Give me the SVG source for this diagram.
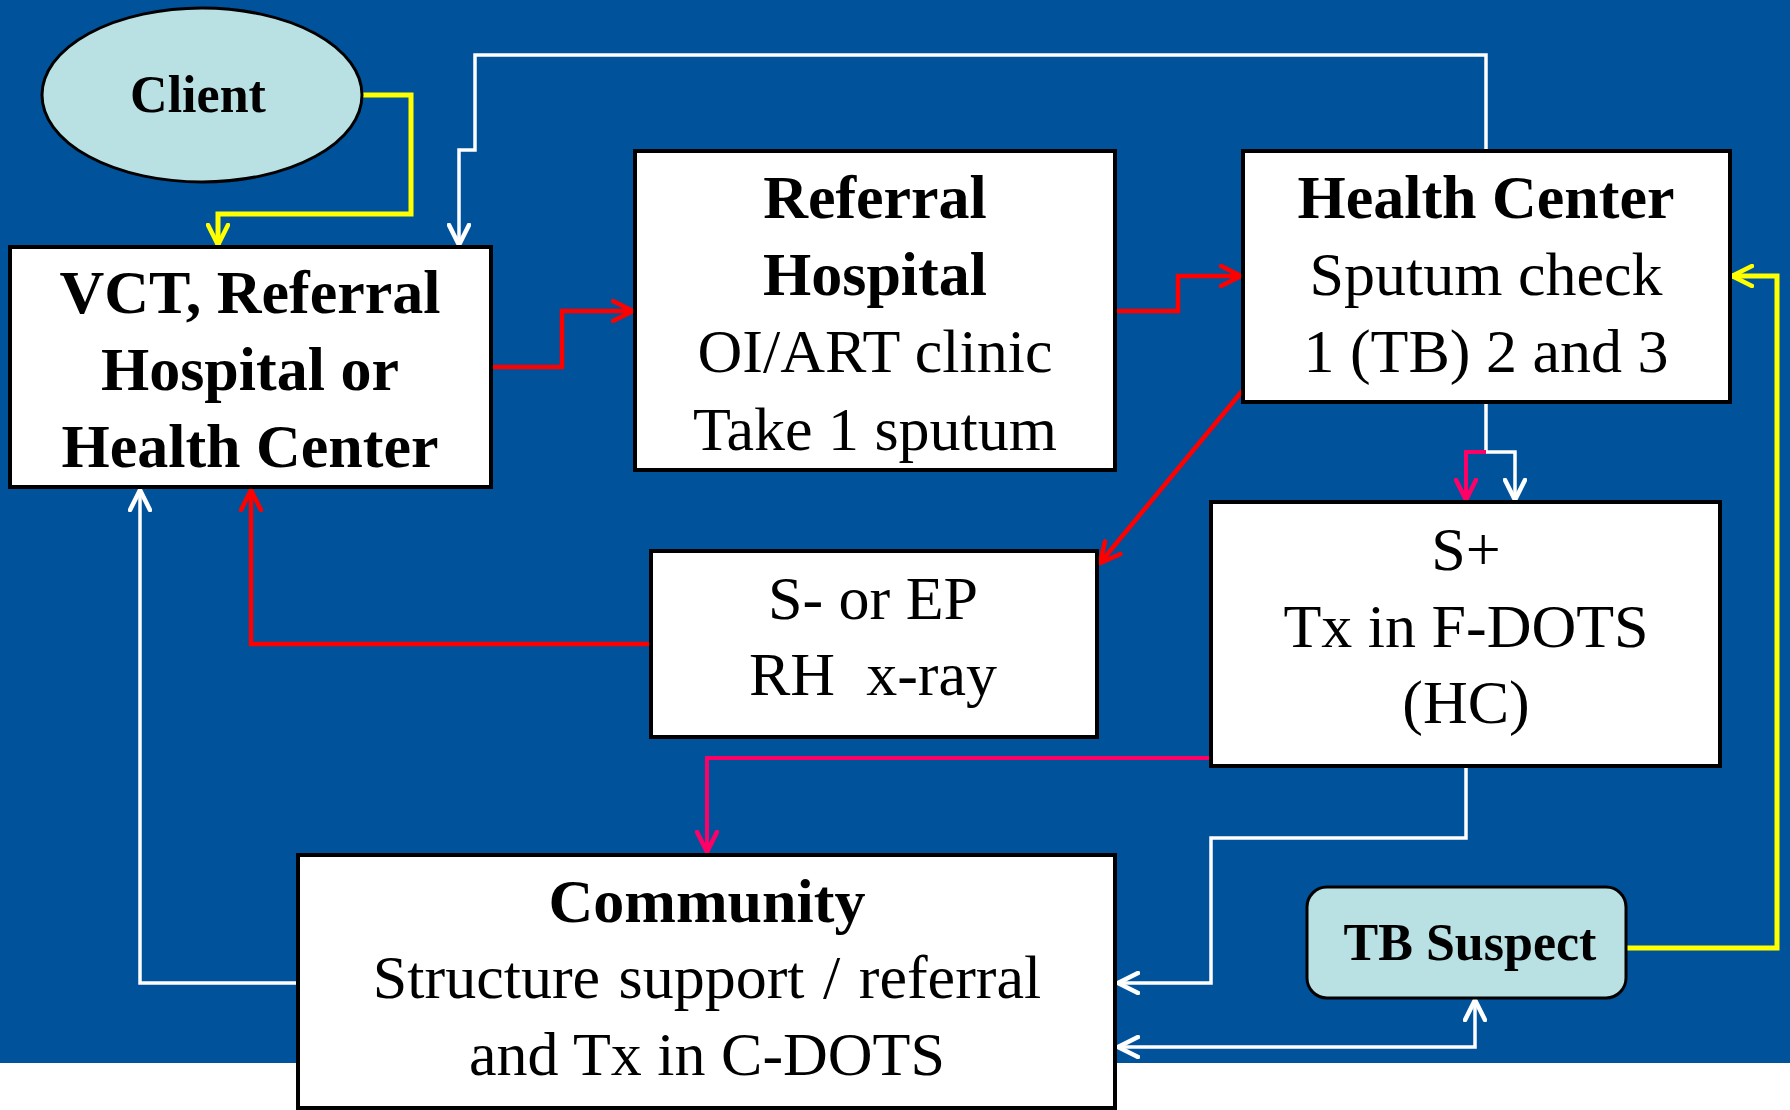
<svg xmlns="http://www.w3.org/2000/svg" width="1790" height="1110" viewBox="0 0 1790 1110">
<defs>
<style>
.box{fill:#fff;stroke:#000;stroke-width:4}
.oval{fill:#B9E0E3;stroke:#000;stroke-width:3}
.t{font-family:"Liberation Serif","Times New Roman",serif;fill:#000;text-anchor:middle;font-size:62px}
.b{font-weight:bold}
.s{font-size:52px}
.c{fill:none;stroke-linejoin:miter;stroke-linecap:butt}
.red{stroke:#FF0000;stroke-width:4.5}
.pink{stroke:#FF0066;stroke-width:4}
.yel{stroke:#FFFF00;stroke-width:5}
.wht{stroke:#FFFFFF;stroke-width:3.5}
</style>
<marker id="aRed" viewBox="0 0 24 24" refX="22" refY="12" markerWidth="24" markerHeight="24" markerUnits="userSpaceOnUse" orient="auto-start-reverse"><path d="M2,2 L22,12 L2,22" fill="none" stroke="#FF0000" stroke-width="4.5" stroke-linecap="round"/></marker>
<marker id="aPink" viewBox="0 0 24 24" refX="22" refY="12" markerWidth="24" markerHeight="24" markerUnits="userSpaceOnUse" orient="auto-start-reverse"><path d="M2,2 L22,12 L2,22" fill="none" stroke="#FF0066" stroke-width="4.5" stroke-linecap="round"/></marker>
<marker id="aYel" viewBox="0 0 24 24" refX="22" refY="12" markerWidth="24" markerHeight="24" markerUnits="userSpaceOnUse" orient="auto-start-reverse"><path d="M2,2 L22,12 L2,22" fill="none" stroke="#FFFF00" stroke-width="4.5" stroke-linecap="round"/></marker>
<marker id="aWht" viewBox="0 0 24 24" refX="22" refY="12" markerWidth="24" markerHeight="24" markerUnits="userSpaceOnUse" orient="auto-start-reverse"><path d="M2,2 L22,12 L2,22" fill="none" stroke="#FFFFFF" stroke-width="4.5" stroke-linecap="round"/></marker>
</defs>
<rect x="0" y="0" width="1790" height="1110" fill="#FFFFFF"/>
<rect x="0" y="0" width="1790" height="1063" fill="#00529B"/>

<g id="connectors">
<path class="c yel" d="M363,95 H411 V214 H218 V245" marker-end="url(#aYel)"/>
<path class="c wht" d="M1486,151 V55 H475 V150 H459 V245" marker-end="url(#aWht)"/>
<path class="c red" d="M491,367 H562 V311 H633" marker-end="url(#aRed)"/>
<path class="c red" d="M1115,311 H1178 V276 H1241" marker-end="url(#aRed)"/>
<path class="c red" d="M1243,390 L1100,563" marker-end="url(#aRed)"/>
<path class="c red" d="M651,644 H251 V490" marker-end="url(#aRed)"/>
<path class="c wht" d="M1486,402 V452 H1515 V500" marker-end="url(#aWht)"/>
<path class="c pink" d="M1486,452 H1466 V500" marker-end="url(#aPink)"/>
<path class="c pink" d="M1211,758 H707 V852" marker-end="url(#aPink)"/>
<path class="c wht" d="M1466,766 V838 H1211 V983 H1118" marker-end="url(#aWht)"/>
<path class="c wht" d="M1118,1047 H1475 V1000" marker-start="url(#aWht)" marker-end="url(#aWht)"/>
<path class="c yel" d="M1626,948 H1777 V276 H1732" marker-end="url(#aYel)"/>
<path class="c wht" d="M298,983 H140 V490" marker-end="url(#aWht)"/>
</g>

<g id="client">
<ellipse class="oval" cx="202" cy="95" rx="160" ry="87"/>
<text class="t b s" x="198" y="112">Client</text>
</g>

<g id="vct">
<rect class="box" x="10" y="247" width="481" height="240"/>
<text class="t b" x="250" y="313">VCT, Referral</text>
<text class="t b" x="250" y="390">Hospital or</text>
<text class="t b" x="250" y="467">Health Center</text>
</g>

<g id="referral-hospital">
<rect class="box" x="635" y="151" width="480" height="319"/>
<text class="t b" x="875" y="218">Referral</text>
<text class="t b" x="875" y="295">Hospital</text>
<text class="t" x="875" y="372">OI/ART clinic</text>
<text class="t" x="875" y="450">Take 1 sputum</text>
</g>

<g id="health-center">
<rect class="box" x="1243" y="151" width="487" height="251"/>
<text class="t b" x="1486" y="218">Health Center</text>
<text class="t" x="1486" y="295">Sputum check</text>
<text class="t" x="1486" y="372">1 (TB) 2 and 3</text>
</g>

<g id="s-minus">
<rect class="box" x="651" y="551" width="446" height="186"/>
<text class="t" x="873" y="619">S- or EP</text>
<text class="t" x="873" y="695" xml:space="preserve">RH  x-ray</text>
</g>

<g id="s-plus">
<rect class="box" x="1211" y="502" width="509" height="264"/>
<text class="t" x="1466" y="570">S+</text>
<text class="t" x="1466" y="647">Tx in F-DOTS</text>
<text class="t" x="1466" y="723">(HC)</text>
</g>

<g id="community">
<rect class="box" x="298" y="855" width="817" height="253"/>
<text class="t b" x="707" y="922">Community</text>
<text class="t" x="707" y="998" word-spacing="3">Structure support / referral</text>
<text class="t" x="707" y="1075">and Tx in C-DOTS</text>
</g>

<g id="tb-suspect">
<rect class="oval" x="1307" y="887" width="319" height="111" rx="20" ry="20"/>
<text class="t b s" x="1470" y="960">TB Suspect</text>
</g>
</svg>
